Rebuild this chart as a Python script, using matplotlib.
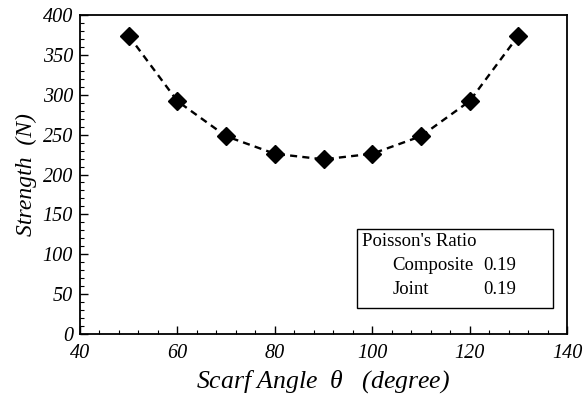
import matplotlib
matplotlib.use("Agg")
import matplotlib.pyplot as plt
from matplotlib.ticker import MultipleLocator

angle = [50, 60, 70, 80, 90, 100, 110, 120, 130]
strength = [374, 292, 248, 226, 219, 226, 248, 292, 374]

plt.rcParams["font.family"] = "Liberation Serif"
plt.rcParams["mathtext.fontset"] = "custom"
plt.rcParams["mathtext.it"] = "Liberation Serif:italic"
plt.rcParams["mathtext.rm"] = "Liberation Serif"

fig = plt.figure(figsize=(5.83, 4.01), dpi=100)
ax = fig.add_axes([80 / 583, 1 - 334 / 401, 487 / 583, 319 / 401])

ax.plot(angle, strength, linestyle=(0, (3, 2.2)), color="black", linewidth=1.7,
        marker="D", markersize=9, markerfacecolor="black", markeredgecolor="black")

ax.set_xlim(40, 140)
ax.set_ylim(0, 400)
ax.xaxis.set_major_locator(MultipleLocator(20))
ax.xaxis.set_minor_locator(MultipleLocator(4))
ax.yaxis.set_major_locator(MultipleLocator(50))
ax.yaxis.set_minor_locator(MultipleLocator(10))
ax.tick_params(which="both", direction="in", labelsize=14.5)
ax.tick_params(which="major", length=6, width=1)
ax.tick_params(which="minor", length=3, width=0.8)
ax.tick_params(axis="x", pad=7)
ax.tick_params(axis="y", pad=5)
for lab in ax.get_xticklabels() + ax.get_yticklabels():
    lab.set_style("italic")
for s in ax.spines.values():
    s.set_linewidth(1.3)

ax.set_xlabel(r"Scarf Angle  $\theta$   (degree)", fontsize=18.5, style="italic", labelpad=4)
ax.set_ylabel("Strength  (N)", fontsize=17, style="italic", labelpad=4)

# legend-like text box with Poisson's ratio
ax.add_patch(plt.Rectangle((0.569, 0.082), 0.403, 0.248, transform=ax.transAxes,
                           facecolor="none", edgecolor="black", linewidth=1))
ax.text(0.580, 0.316, "Poisson's Ratio", transform=ax.transAxes, fontsize=13.5, va="top")
ax.text(0.641, 0.241, "Composite", transform=ax.transAxes, fontsize=13.5, va="top")
ax.text(0.641, 0.166, "Joint", transform=ax.transAxes, fontsize=13.5, va="top")
ax.text(0.895, 0.241, "0.19", transform=ax.transAxes, fontsize=13.5, va="top", ha="right")
ax.text(0.895, 0.166, "0.19", transform=ax.transAxes, fontsize=13.5, va="top", ha="right")

fig.savefig("out.png", dpi=100)
